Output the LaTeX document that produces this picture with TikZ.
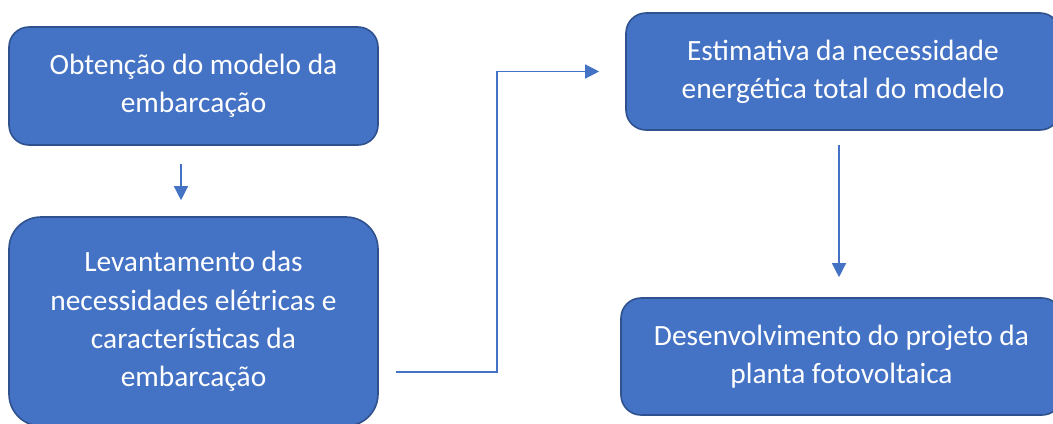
\documentclass[tikz,border=0pt]{standalone}
\usepackage{fontspec}
\setmainfont{Carlito}
\usetikzlibrary{positioning, arrows.meta, calc}
\definecolor{caixa}{HTML}{4472C4}
\definecolor{borda}{HTML}{2F528F}

\tikzset{
    etapa/.style={draw=borda, fill=caixa, line width=1.6bp, rounded corners=20bp,
        text=white, align=center, inner sep=0pt,
        font=\fontsize{29.5}{38.5}\selectfont},
    seta/.style={-{Triangle[width=14bp,length=14bp]}, draw=caixa, line width=1.3bp}
}

\begin{document}
\begin{tikzpicture}[x=1bp, y=-1bp]
        \useasboundingbox (0,0) rectangle (1053,423);
        \node[etapa, minimum width=369bp, minimum height=118bp] (obt) at (193.5,86) {Obtenção do modelo da\\embarcação};
        \node[etapa, minimum width=369bp, minimum height=209bp, rounded corners=32bp] (lev) at (193.5,321.5) {Levantamento das\\necessidades elétricas e\\características da\\embarcação};
        \node[etapa, minimum width=434bp, minimum height=117bp] (est) at (843,71.5) {Estimativa da necessidade\\energética total do modelo};
        \node[etapa, minimum width=441bp, minimum height=117bp] (des) at (841.5,356.5) {Desenvolvimento do projeto da\\planta fotovoltaica};

        \draw[seta, shorten <=18bp, shorten >=16bp] ([xshift=-12.5bp]obt.south) -- ([xshift=-12.5bp]lev.north);
        \draw[seta, shorten <=17bp, shorten >=26bp] (lev.east |- 0,372) -- (497,372) |- (est.west);
        \draw[seta, shorten <=14bp, shorten >=20bp] ([xshift=-4bp]est.south) -- ([xshift=-4bp]est.south |- des.north);
    \end{tikzpicture}
\end{document}
